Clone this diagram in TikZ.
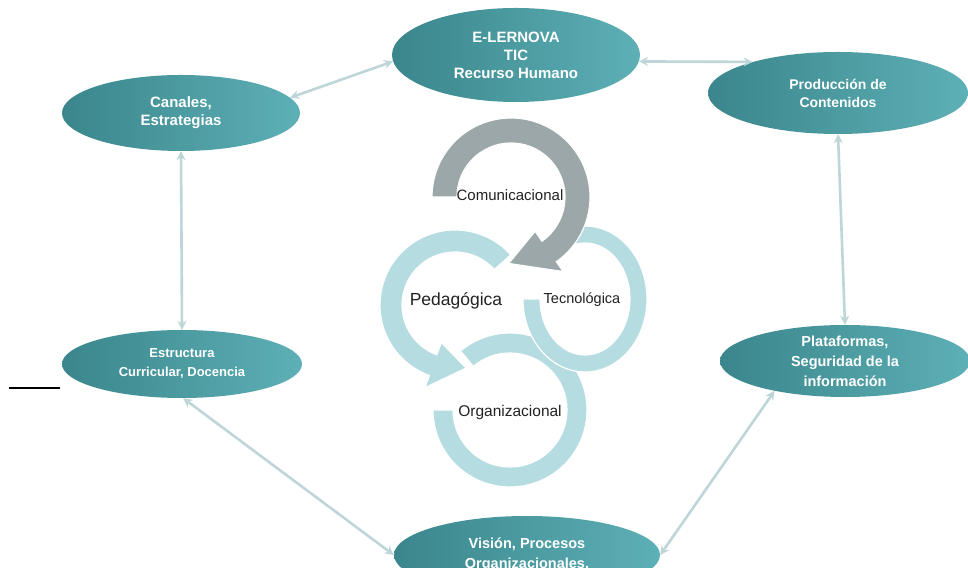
\documentclass[tikz,border=0pt]{standalone}
\usepackage{fontspec}
\setmainfont{Liberation Sans}
\usetikzlibrary{calc,shapes.geometric,arrows.meta}
\definecolor{tealA}{HTML}{3A868C}
\definecolor{tealB}{HTML}{5DB0B6}
\definecolor{linkc}{HTML}{BFD6D9}
\definecolor{ringc}{HTML}{B5DCE1}
\definecolor{comc}{HTML}{9BA7A9}
\definecolor{txtc}{HTML}{222222}
\tikzset{
  oval/.style={ellipse, inner sep=0pt, left color=tealA, right color=tealB, draw=none,
    text=white, align=center, font=\bfseries\fontsize{15}{18}\selectfont},
  link/.style={draw=linkc, line width=2.6pt, {Stealth[length=9pt,width=9pt]}-{Stealth[length=9pt,width=9pt]}},
  ringfill/.style={fill=ringc, draw=white, line width=1.2pt},
  comfill/.style={fill=comc, draw=white, line width=1.2pt},
  ctext/.style={text=txtc, inner sep=1pt}
}
\begin{document}
\begin{tikzpicture}[x=1pt,y=1pt]
\useasboundingbox (0,0) rectangle (968,567);
\clip (0,0) rectangle (968,567);
\fill[white] (0,0) rectangle (968,567);

% ellipses
\node[oval, minimum width=248pt, minimum height=94pt] (elern) at (516,512) {E-LERNOVA\\TIC\\Recurso Humano};
\node[oval, minimum width=238pt, minimum height=76pt] (canales) at (181,454) {Canales,\\Estrategias};
\node[oval, minimum width=260pt, minimum height=82pt, font=\bfseries\fontsize{14}{18}\selectfont] (prod) at (838,474) {Producción de\\Contenidos};
\node[oval, minimum width=240pt, minimum height=68pt, font=\bfseries\fontsize{13}{19}\selectfont] (estr) at (182,203) {Estructura\\Curricular, Docencia};
\node[oval, minimum width=250pt, minimum height=72pt, font=\bfseries\fontsize{14.5}{20}\selectfont] (plat) at (845,206) {Plataformas,\\Seguridad de la\\información};
\node[oval, minimum width=266pt, minimum height=78pt, font=\bfseries\fontsize{14.5}{20}\selectfont] (vision) at (527,12) {Visión, Procesos\\Organizacionales,};

% connectors
\draw[link] (canales.8) -- (elern.183);
\draw[link] (elern.-3) -- (prod.160);
\draw[link] (canales.south) -- (estr.north);
\draw[link] (prod.south) -- (plat.north);
\draw[link] (estr.-88) -- (vision.180);
\draw[link] (plat.203) -- (vision.0);

% short line
\coordinate (la) at (9,179);
\coordinate (lb) at (60,179);
\draw[black, line width=1.2pt] (la) -- (lb);

% central cycle
\begin{scope}[shift={(510,157)}]
  \fill[ringfill] (130:77) arc[start angle=130, end angle=-180, radius=77]
    -- (180:57) arc[start angle=-180, end angle=130, radius=57] -- cycle;
\end{scope}
\begin{scope}[shift={(585,268)}]
  \fill[ringfill] (130:62 and 73) arc[start angle=130, end angle=-180, x radius=62, y radius=73]
    -- (180:45 and 56) arc[start angle=-180, end angle=130, x radius=45, y radius=56] -- cycle;
\end{scope}
\begin{scope}[shift={(455,262)}]
  \fill[ringfill] (42:75) arc[start angle=42, end angle=250, radius=75]
    -- (250:88) -- (280:64) -- (250:40) -- (250:53)
    arc[start angle=250, end angle=42, radius=53] -- cycle;
\end{scope}
\begin{scope}[shift={(511,370)}]
  \fill[comfill] (180:79) arc[start angle=180, end angle=-55, radius=79]
    -- (-55:91) -- (-92:66.5) -- (-55:42) -- (-55:54)
    arc[start angle=-55, end angle=180, radius=54] -- cycle;
\end{scope}

\node[ctext, font=\fontsize{15}{18}\selectfont] (com) at (510,372) {Comunicacional};
\node[ctext, font=\fontsize{17.5}{20}\selectfont] (ped) at (456,266) {Pedagógica};
\node[ctext, font=\fontsize{14.5}{18}\selectfont] (tec) at (582,267) {Tecnológica};
\node[ctext, font=\fontsize{15.5}{18}\selectfont] (org) at (510,155) {Organizacional};
\end{tikzpicture}
\end{document}
